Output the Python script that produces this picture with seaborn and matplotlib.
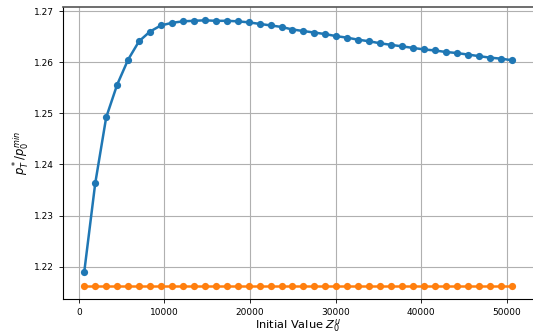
import matplotlib
matplotlib.use("Agg")
import matplotlib.pyplot as plt
import numpy as np
import pandas as pd
import seaborn as sns

# Initial values Z_0^u (40 runs)
z0 = [640, 1920, 3200, 4480, 5760, 7040, 8320, 9600, 10880, 12160,
      13440, 14720, 16000, 17280, 18560, 19840, 21120, 22400, 23680, 24960,
      26240, 27520, 28800, 30080, 31360, 32640, 33920, 35200, 36480, 37760,
      39040, 40320, 41600, 42880, 44160, 45440, 46720, 48000, 49280, 50560]

ratio_blue = [1.2190, 1.2363, 1.2492, 1.2556, 1.2605, 1.2641, 1.2660, 1.2672, 1.2677, 1.2680,
              1.2681, 1.2682, 1.2681, 1.2681, 1.2680, 1.2678, 1.2675, 1.2672, 1.2669, 1.2664,
              1.2661, 1.2658, 1.2655, 1.2651, 1.2648, 1.2644, 1.2641, 1.2637, 1.2634, 1.2631,
              1.2628, 1.2625, 1.2623, 1.2620, 1.2618, 1.2615, 1.2612, 1.2609, 1.2607, 1.2604]

ratio_orange = [1.2162] * 40

df = pd.DataFrame({"z0": z0, "blue": ratio_blue, "orange": ratio_orange})

fig = plt.figure(figsize=(5.33, 3.34), dpi=100)
ax = fig.add_axes([0.118, 0.1036, 0.882, 0.8754])

sns.lineplot(data=df, x="z0", y="blue", marker="o", color="#1f77b4",
             linewidth=1.8, markersize=5.2, markeredgewidth=0, ax=ax)
sns.lineplot(data=df, x="z0", y="orange", marker="o", color="#ff7f0e",
             linewidth=1.8, markersize=5.2, markeredgewidth=0, ax=ax)

ax.margins(x=0.05, y=0.05)
ax.grid(True, color="#b0b0b0", linewidth=0.8)
ax.set_axisbelow(True)
ax.set_yticks([1.22, 1.23, 1.24, 1.25, 1.26, 1.27])
ax.set_xticks([0, 10000, 20000, 30000, 40000, 50000])
ax.tick_params(labelsize=6.5, length=3, width=0.6)
ax.spines["right"].set_visible(False)
ax.spines["top"].set_color("#555555")
ax.spines["top"].set_linewidth(1.2)
for s in ["left", "bottom"]:
    ax.spines[s].set_linewidth(0.8)

ax.set_xlabel(r"Initial Value $Z_0^u$", fontsize=8.2, labelpad=0)
ax.set_ylabel(r"$p_T^*/p_0^{min}$", fontsize=8.4, labelpad=2)

fig.savefig("out.png", dpi=100)
